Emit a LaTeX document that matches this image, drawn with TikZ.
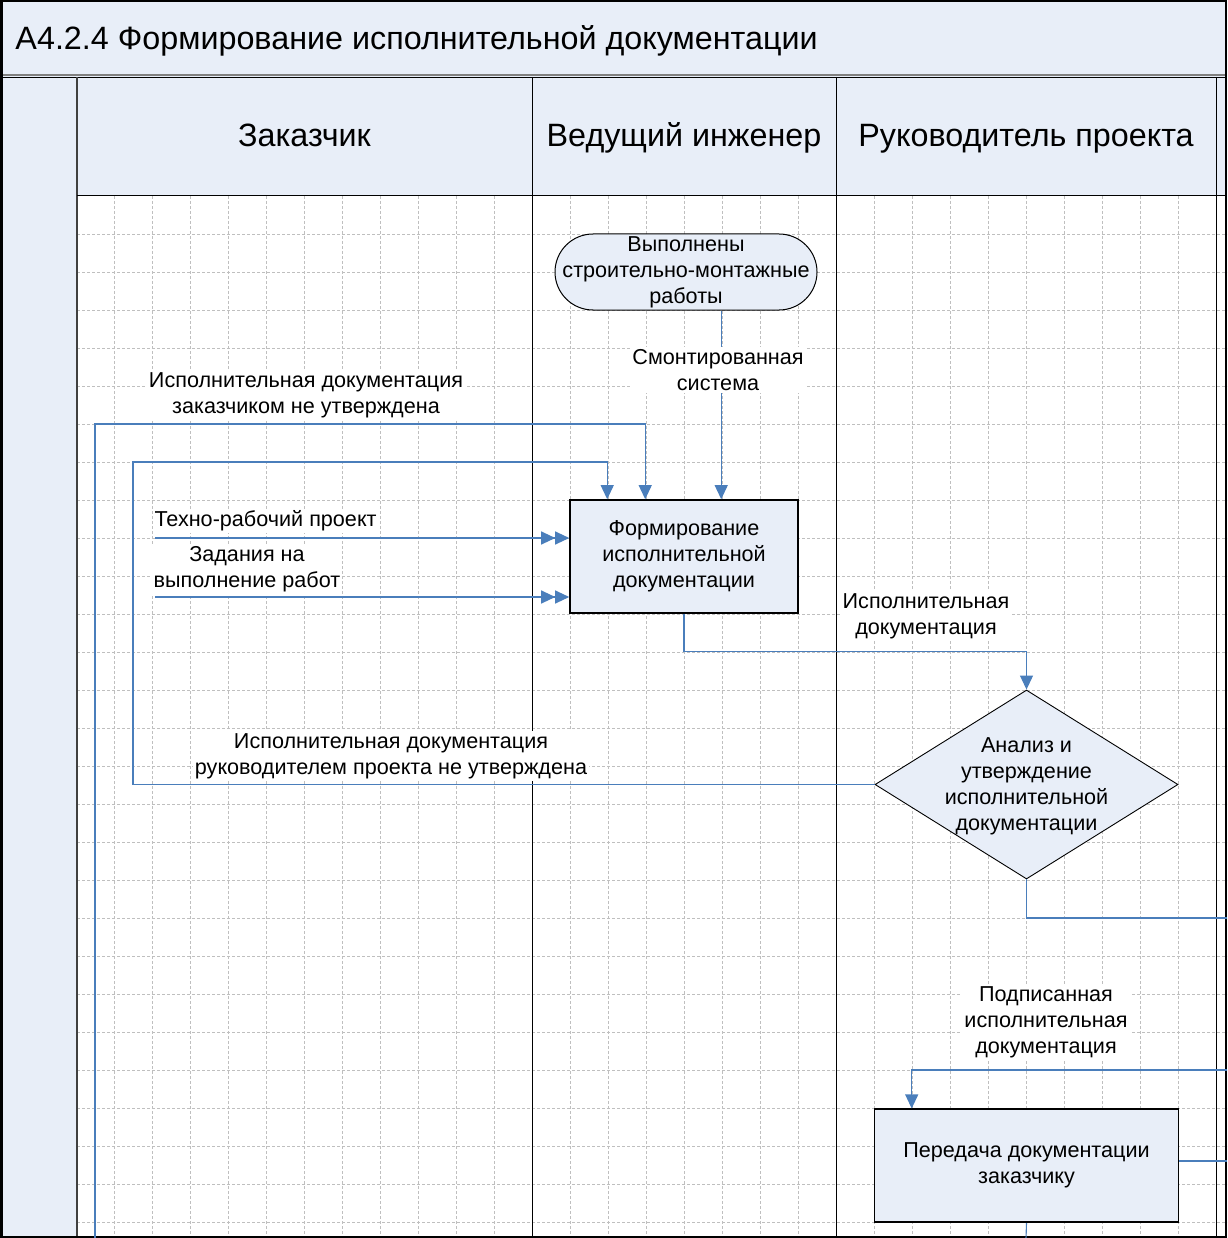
\documentclass[tikz,border=0pt]{standalone}
\usepackage{fontspec}
\setmainfont{Liberation Sans}
\usetikzlibrary{arrows.meta,positioning,shapes.geometric,calc}

\definecolor{fondo}{HTML}{E8EEF8}
\definecolor{azul}{HTML}{4A7EBB}
\definecolor{rejilla}{HTML}{BFBFBF}

\begin{document}
\begin{tikzpicture}[x=1pt, y=-1pt, line width=1pt, >={Triangle[length=14pt,width=13pt]}, font=\fontsize{21.6}{26}\selectfont]
	\tikzset{flujo/.style={azul, line width=1.1pt, ->}, doble/.style={azul, line width=1.1pt, -{Triangle[length=14pt,width=13pt]Triangle[length=14pt,width=13pt]}}}
	\tikzstyle{malla}=[rejilla, line width=0.8pt, dash pattern=on 3pt off 2pt]
	\tikzstyle{proceso}=[draw=black, line width=1.6pt, fill=fondo, align=center, inner sep=0pt]
	\tikzstyle{decision}=[diamond, draw=black, line width=0.9pt, fill=fondo, minimum width=303pt, minimum height=189pt, inner sep=0pt]
	\tikzstyle{etiqueta}=[fill=white, align=center, inner sep=2pt]
	\tikzstyle{cabecera}=[font=\fontsize{32.3}{38}\selectfont, anchor=base, inner sep=0pt]

	\useasboundingbox (0,0) rectangle (1227,1238);

	%FONDOS
	\fill[fondo] (0,0) rectangle (1227,77);
	\fill[fondo] (0,77) rectangle (77,1238);
	\fill[fondo] (77,77) rectangle (1227,196);

	%MALLA
	\foreach \i in {1,...,29} \draw[malla] (76.7+38*\i,196) -- (76.7+38*\i,1238);
	\foreach \j in {1,...,27} \draw[malla] (77,196+38*\j) -- (1227,196+38*\j);

	%CARRILES
	\draw[gray, line width=2pt] (0,75) -- (1227,75);
	\draw (0,77.5) -- (1227,77.5);
	\draw[black!75, line width=2pt] (77,77) -- (77,1238);
	\draw (77,196) -- (1227,196);
	\foreach \x in {532,836,1216} \draw (\x,77) -- (\x,1238);
	\draw[line width=2pt] (1,1) rectangle (1226,1237);
	\draw[line width=3pt] (1.5,0) -- (1.5,1238);

	\node[cabecera, anchor=base west] (t0) at (15,49.5) {А4.2.4 Формирование исполнительной документации};
	\node[cabecera] (z1) at (304.5,147) {Заказчик};
	\node[cabecera] (z2) at (684,147) {Ведущий инженер};
	\node[cabecera] (z3) at (1026,147) {Руководитель проекта};

	%BLOQUES
	\node[proceso, rounded corners=38pt, line width=1pt, minimum width=262pt, minimum height=76pt] (s0) at (686,272) {Выполнены\\строительно-монтажные\\работы};
	\node[proceso, minimum width=228pt, minimum height=113pt] (p1) at (684,556.5) {Формирование\\исполнительной\\документации};
	\node[decision, label={[align=center, yshift=-2pt]center:Анализ и\\утверждение\\исполнительной\\документации}] (d1) at (1026.5,784.5) {};
	\node[proceso, minimum width=304pt, minimum height=113pt, below=229pt of d1] (p2) {Передача документации\\заказчику};

	%PUNTOS
	\coordinate (e1) at ($(p1.north west)+(38,0)$);
	\coordinate (e2) at ($(p1.north west)+(76,0)$);
	\coordinate (e3) at ($(p1.north west)+(152,0)$);
	\coordinate (e4) at ($(p2.north west)+(38,0)$);
	\coordinate (v1) at (95,424);
	\coordinate (v2) at (133,462);
	\coordinate (f1) at (95,1238);
	\coordinate (a1) at (155,538);
	\coordinate (a2) at (155,597);
	\coordinate (o1) at (1227,918);
	\coordinate (o2) at (1227,1070);
	\coordinate (o3) at (1227,1161);
	\coordinate (o4) at (1026,1238);

	%FLUJOS
	\draw[flujo] (s0.south -| e3) -- (e3);
	\draw[flujo] (f1) -- (v1) -| (e2);
	\draw[flujo] (d1.west) -| (v2) -| (e1);
	\draw[doble] (a1) -- (p1.west |- a1);
	\draw[doble] (a2) -- (p1.west |- a2);
	\draw[flujo] (p1.south) |- ($(d1.north)+(0,-38)$) -- (d1.north);
	\draw[azul, line width=1.1pt] (d1.south) |- (o1);
	\draw[flujo] (o2) -| (e4);
	\draw[azul, line width=1.1pt] (p2.east |- o3) -- (o3);
	\draw[azul, line width=1.1pt] (p2.south) -- (o4);

	%ETIQUETAS
	\node[etiqueta] (l1) at (718,370) {Смонтированная\\система};
	\node[etiqueta] (l2) at (306,395) {Исполнительная документация\\заказчиком не утверждена};
	\node[etiqueta, anchor=west] (l3) at (152,521) {Техно-рабочий проект};
	\node[etiqueta] (l4) at (247,569) {Задания на\\выполнение работ};
	\node[etiqueta] (l5) at (926,616) {Исполнительная\\документация};
	\node[etiqueta] (l6) at (391,756) {Исполнительная документация\\руководителем проекта не утверждена};
	\node[etiqueta] (l7) at (1046,1022) {Подписанная\\исполнительная\\документация};
\end{tikzpicture}
\end{document}
